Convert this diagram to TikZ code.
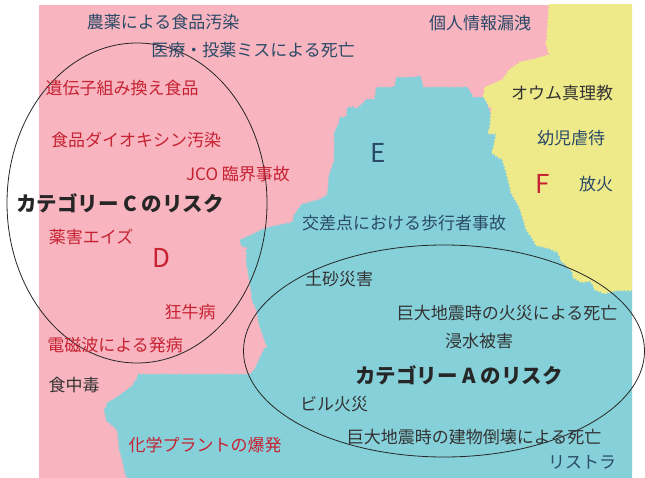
\documentclass[tikz,border=0pt]{standalone}
\usepackage{fontspec}
\usetikzlibrary{decorations.pathmorphing}
\setmainfont{Noto Sans CJK JP}
\definecolor{pinkbg}{HTML}{F8B4BF}
\definecolor{cyanbg}{HTML}{86D0D9}
\definecolor{yellowbg}{HTML}{EEEA8A}
\definecolor{txtblue}{HTML}{2A4A68}
\definecolor{txtred}{HTML}{C62232}
\definecolor{txtgray}{HTML}{333333}
\begin{document}
\begin{tikzpicture}[x=1pt,y=-1pt,
  lbl/.style={inner sep=0pt, anchor=center, font=\fontsize{17}{20}\selectfont},
  tb/.style={lbl, text=txtblue},
  tr/.style={lbl, text=txtred},
  tk/.style={lbl, text=txtgray},
  cat/.style={inner sep=0pt, anchor=center, text=black!85, font=\fontsize{20.5}{23}\selectfont\bfseries},
  letter/.style={inner sep=0pt, anchor=center, font=\fontsize{26}{28}\selectfont},
  ring/.style={draw=black!85, line width=0.8pt},
  scallopout/.style={decorate, decoration={bumps, segment length=7pt, amplitude=-1.6pt}},
  scallopin/.style={decorate, decoration={bumps, segment length=7pt, amplitude=1.6pt}}]
\useasboundingbox (0,0) rectangle (645,478);
% regions
\fill[pinkbg] (39,5) rectangle (632,478);
\begin{scope}
\clip (39,5) rectangle (632,478);
\fill[cyanbg, scallopout] (485,98) -- (473,98) -- (467,88) -- (423,88) -- (420,78) -- (397,78) -- (395,88) -- (377,88) -- (375,100) -- (368,100) -- (358,108) -- (348,108) -- (347,118) -- (342,118) -- (335,133) -- (335,160) -- (330,175) -- (328,195) -- (320,200) -- (302,205) -- (295,215) -- (293,223) -- (273,227) -- (263,230) -- (248,237) -- (242,240) -- (242,245) -- (247,247) -- (247,262) -- (250,280) -- (253,300) -- (257,310) -- (260,325) -- (267,345) -- (262,355) -- (255,370) -- (250,375) -- (140,375) -- (132,387) -- (120,396) -- (110,402) -- (105,410) -- (107,420) -- (118,430) -- (120,450) -- (123,460) -- (125,470) -- (130,485) -- (640,485) -- (640,200) -- (560,200) -- (500,150) -- cycle;
\fill[yellowbg, scallopin] (550,0) -- (640,0) -- (640,290) -- (615,290) -- (605,293) -- (597,290) -- (590,280) -- (582,282) -- (575,278) -- (572,270) -- (563,262) -- (558,252) -- (550,248) -- (537,245) -- (532,237) -- (527,230) -- (520,207) -- (512,193) -- (507,173) -- (503,160) -- (493,153) -- (497,133) -- (490,133) -- (492,110) -- (485,98) -- (485,88) -- (503,80) -- (510,70) -- (520,63) -- (533,60) -- (550,55) -- (547,45) -- cycle;
\end{scope}
% category rings
\draw[ring] (137,203) ellipse [x radius=130, y radius=160];
\draw[ring] (444,351) ellipse [x radius=200.5, y radius=106];
% labels
\node[tb] (noyaku) at (163,22) {農薬による食品汚染};
\node[tb] (iryo) at (253,50) {医療・投薬ミスによる死亡};
\node[tb] (kojin) at (480,23) {個人情報漏洩};
\node[tk] (aum) at (562,93) {オウム真理教};
\node[tb] (yoji) at (571,138) {幼児虐待};
\node[tb] (hoka) at (596,184) {放火};
\node[tb] (kosaten) at (404,223) {交差点における歩行者事故};
\node[tr] (idenshi) at (122,88) {遺伝子組み換え食品};
\node[tr] (dioxin) at (136,140) {食品ダイオキシン汚染};
\node[tr] (jco) at (238,174) {JCO 臨界事故};
\node[tr] (yakugai) at (91,237) {薬害エイズ};
\node[tr] (kyogyu) at (190,312) {狂牛病};
\node[tr] (denji) at (115,345) {電磁波による発病};
\node[tk] (shokuchu) at (74,385) {食中毒};
\node[tr] (kagaku) at (205,445) {化学プラントの爆発};
\node[tk] (dosha) at (339,279) {土砂災害};
\node[tk] (kasai) at (507,313) {巨大地震時の火災による死亡};
\node[tk] (shinsui) at (479,341) {浸水被害};
\node[tk] (biru) at (334,404) {ビル火災};
\node[tk] (tokai) at (474,437) {巨大地震時の建物倒壊による死亡};
\node[tb] (restra) at (582,462) {リストラ};
\node[cat] (catC) at (120,203) {カテゴリー C のリスク};
\node[cat] (catA) at (459,375) {カテゴリー A のリスク};
\node[letter, text=txtblue] (E) at (378,153) {E};
\node[letter, text=txtred] (D) at (161,258) {D};
\node[letter, text=txtred] (F) at (543,184) {F};
\end{tikzpicture}
\end{document}
